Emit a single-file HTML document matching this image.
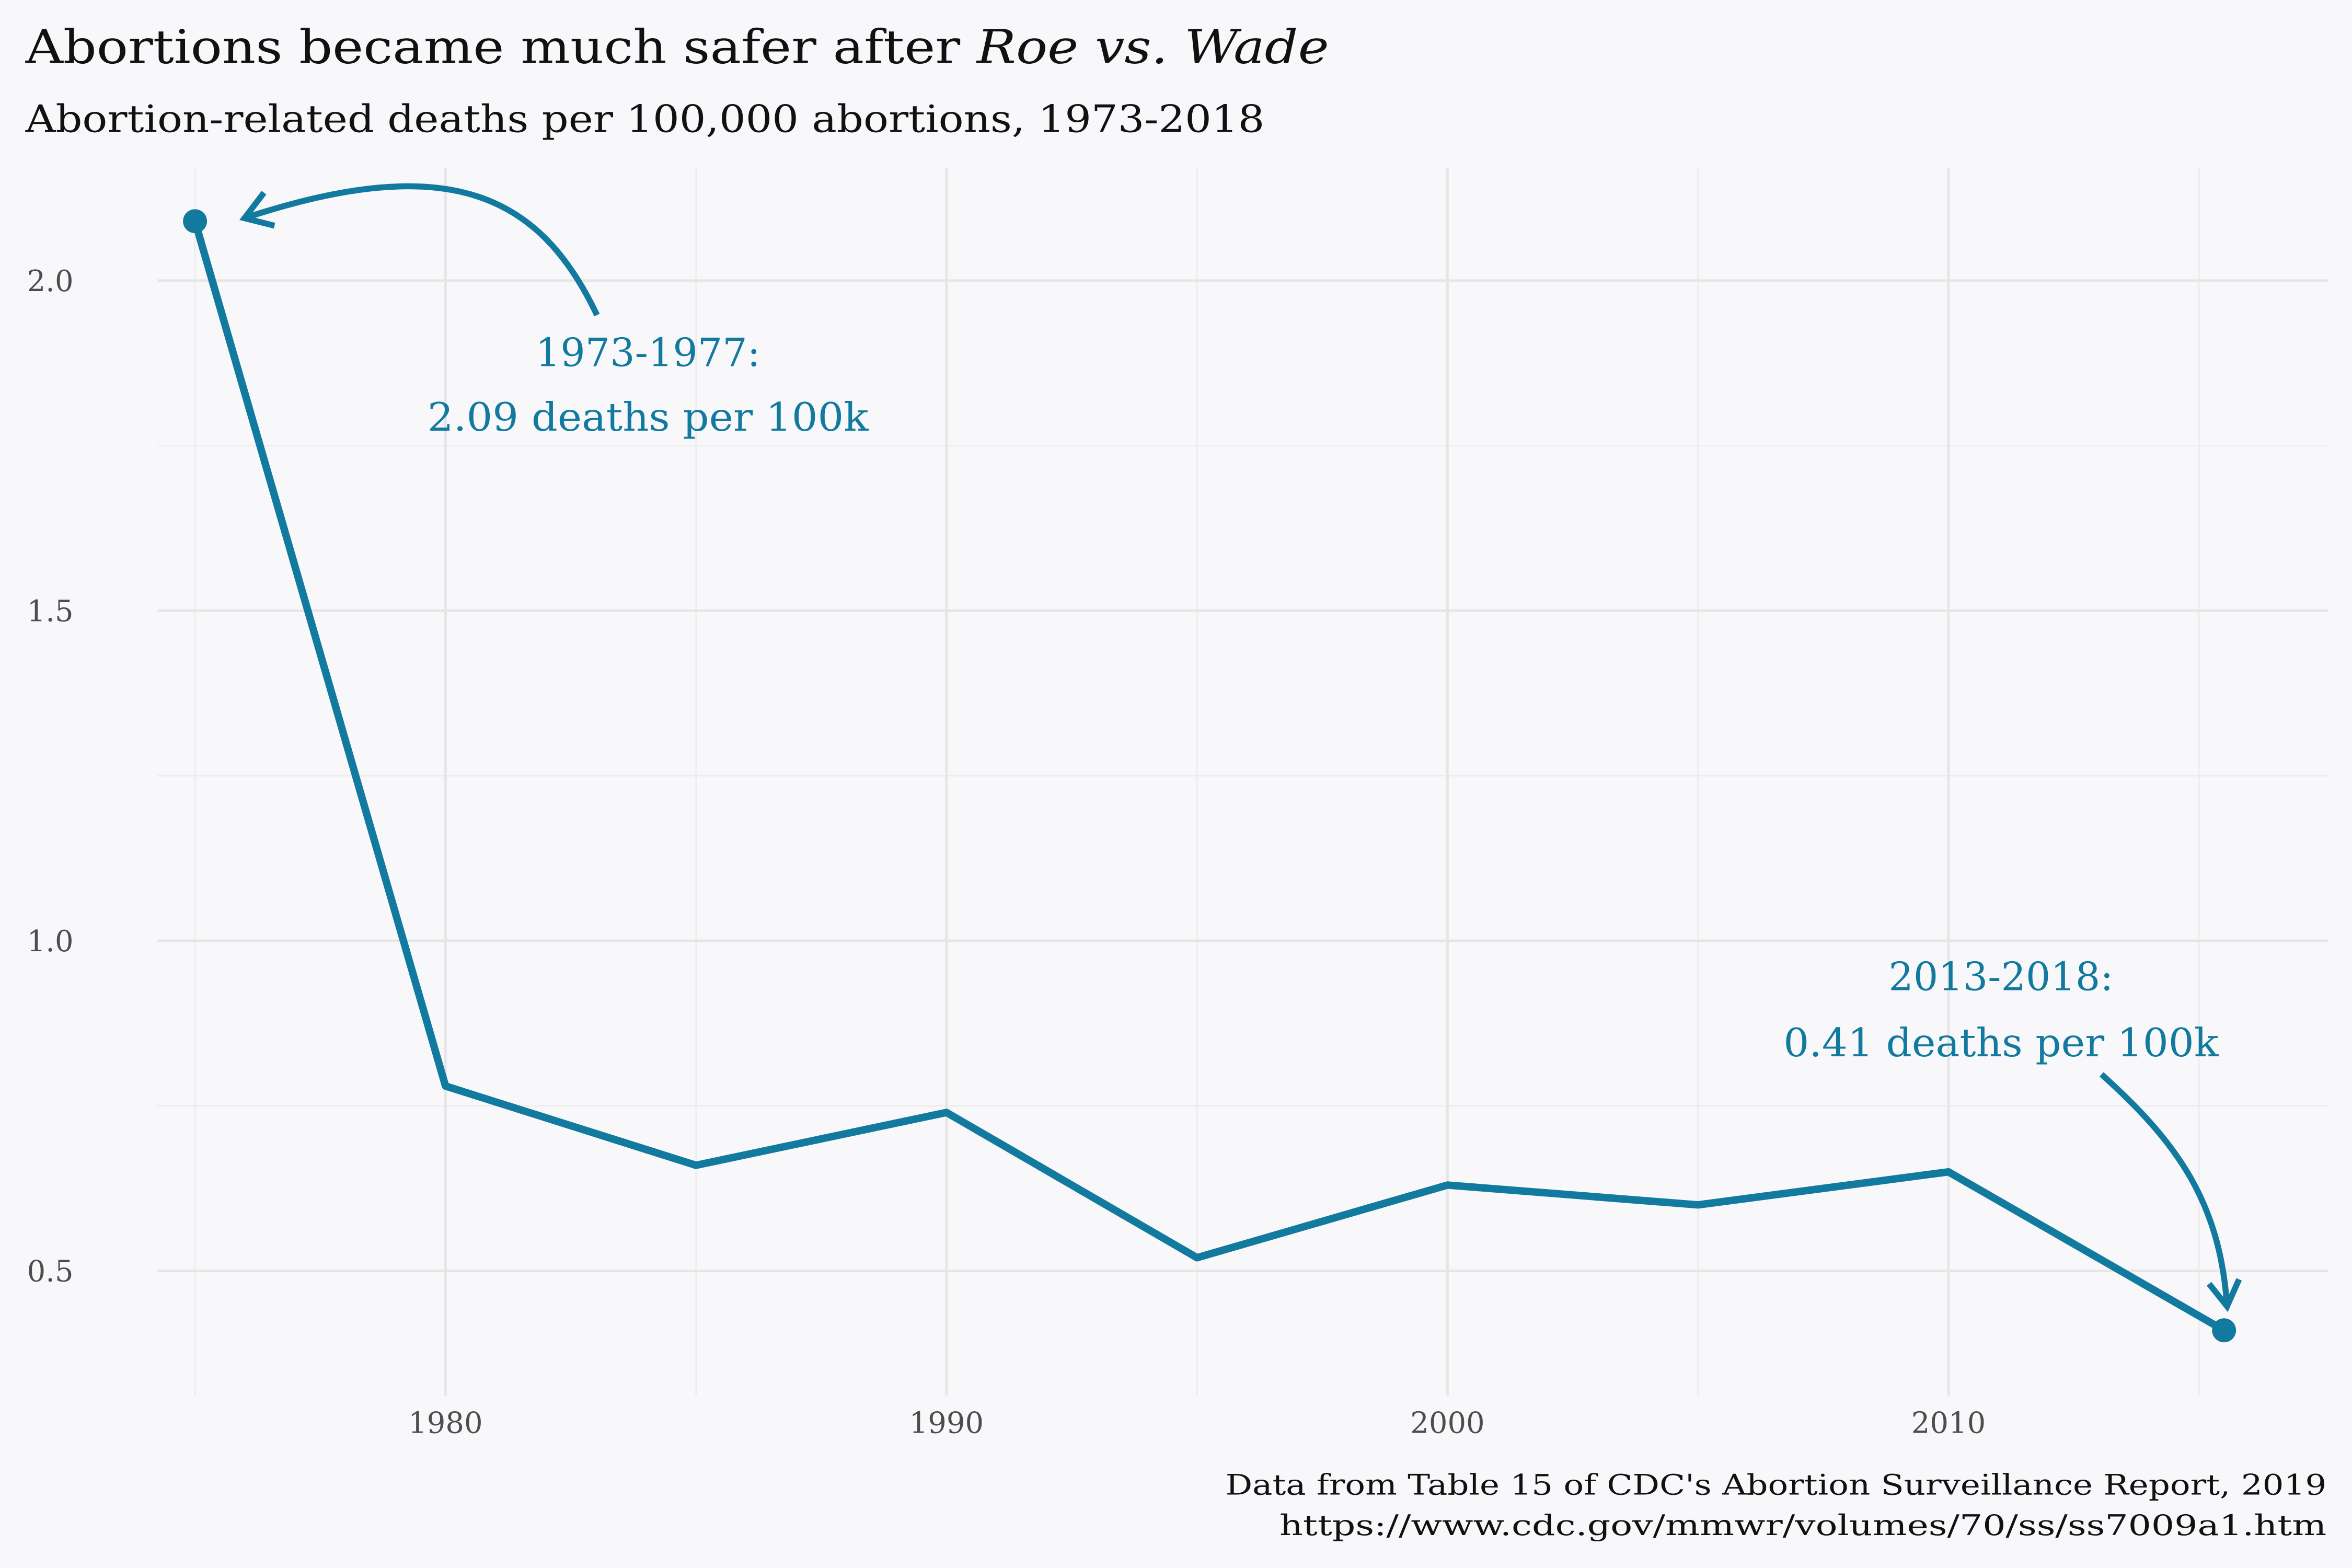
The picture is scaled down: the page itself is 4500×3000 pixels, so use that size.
<!DOCTYPE html>
<html><head><meta charset="utf-8">
<style>
html,body{margin:0;padding:0;background:#f8f8fb;}
svg{display:block;}
text{font-family:"DejaVu Serif","Liberation Serif",serif;}
</style></head>
<body>
<svg id="chart" width="4500" height="3000" viewBox="0 0 1568 1045" preserveAspectRatio="none" xmlns="http://www.w3.org/2000/svg">
<rect width="1568" height="1045" fill="#f8f8fb"/>
<text x="17" y="42" font-size="31" fill="#111" textLength="869" lengthAdjust="spacingAndGlyphs">Abortions became much safer after <tspan font-style="italic">Roe vs. Wade</tspan></text>
<text x="17" y="88" font-size="25" fill="#111" textLength="826" lengthAdjust="spacingAndGlyphs">Abortion-related deaths per 100,000 abortions, 1973-2018</text>
<g id="grid"></g>
<g id="axes"></g>
<g id="series"></g>
<g id="annot"></g>
<text x="1551" y="996" font-size="19" fill="#111" text-anchor="end" textLength="734" lengthAdjust="spacingAndGlyphs">Data from Table 15 of CDC's Abortion Surveillance Report, 2019</text>
<text x="1551" y="1023" font-size="19" fill="#111" text-anchor="end" textLength="698" lengthAdjust="spacingAndGlyphs">https://www.cdc.gov/mmwr/volumes/70/ss/ss7009a1.htm</text>
</svg>
<script>
const years = [1975, 1980, 1985, 1990, 1995, 2000, 2005, 2010, 2015.5];
const rates = [2.09, 0.78, 0.66, 0.74, 0.52, 0.63, 0.60, 0.65, 0.41];
const xTicks = [1980, 1990, 2000, 2010];
const xMinor = [1975, 1985, 1995, 2005, 2015];
const yTicks = [0.5, 1.0, 1.5, 2.0];
const yMinor = [0.75, 1.25, 1.75];
const yTickLabels = ["0.5", "1.0", "1.5", "2.0"];

const NS = "http://www.w3.org/2000/svg";
const COLOR = "#137a9f";
const panelLeft = 105, panelRight = 1552, panelTop = 112, panelBottom = 930;
function xs(v){ return 297 + (v - 1980) * 33.4; }
function ys(v){ return 847 - (v - 0.5) * 440; }
function mk(tag, attrs, parent){
  const e = document.createElementNS(NS, tag);
  for (const k in attrs) e.setAttribute(k, attrs[k]);
  parent.appendChild(e);
  return e;
}
const gridG = document.getElementById('grid');
const axesG = document.getElementById('axes');
const seriesG = document.getElementById('series');
const annotG = document.getElementById('annot');

yMinor.forEach(v => {
  const l = mk('line', {x1:panelLeft, x2:panelRight, y1:ys(v), y2:ys(v), stroke:'#ececec', 'stroke-width':0.9}, gridG);
  
  
});
xMinor.forEach(v => {
  const l = mk('line', {x1:xs(v), x2:xs(v), y1:panelTop, y2:panelBottom, stroke:'#ececec', 'stroke-width':0.9}, gridG);
  
  
});
yTicks.forEach((v, i) => {
  const l = mk('line', {x1:panelLeft, x2:panelRight, y1:ys(v), y2:ys(v), stroke:'#e6e6e6', 'stroke-width':1.7}, gridG);
  
  
  const t = mk('text', {x:49, y:ys(v) + 7, 'font-size':19.5, fill:'#4d4d4d', 'text-anchor':'end'}, axesG);
  t.textContent = yTickLabels[i];
  
  
});
xTicks.forEach(v => {
  const l = mk('line', {x1:xs(v), x2:xs(v), y1:panelTop, y2:panelBottom, stroke:'#e6e6e6', 'stroke-width':1.7}, gridG);
  
  
  const t = mk('text', {x:xs(v), y:955, 'font-size':19.5, fill:'#4d4d4d', 'text-anchor':'middle'}, axesG);
  t.textContent = String(v);
  
  
});

const pts = years.map((yr, i) => xs(yr) + ',' + ys(rates[i])).join(' ');
const line = mk('polyline', {points:pts, fill:'none', stroke:COLOR, 'stroke-width':5, 'stroke-linejoin':'round', 'stroke-linecap':'round'}, seriesG);


[0, years.length - 1].forEach(i => {
  const c = mk('circle', {cx:xs(years[i]), cy:ys(rates[i]), r:8, fill:COLOR}, seriesG);
  
  
});

const p0x = xs(years[0]), p0y = ys(rates[0]);
const a1 = mk('path', {d:`M398,210 C360,130 300,100 ${p0x+33},${p0y-2}`, fill:'none', stroke:COLOR, 'stroke-width':4}, annotG);


const h1 = mk('path', {d:`M${p0x+46},${p0y-19} L${p0x+33},${p0y-2} L${p0x+53},${p0y+3}`, fill:'none', stroke:COLOR, 'stroke-width':4}, annotG);


const t1 = mk('text', {x:432, y:244, 'font-size':26, fill:COLOR, 'text-anchor':'middle'}, annotG);
t1.textContent = '1973-1977:';


const t2 = mk('text', {x:432, y:287, 'font-size':26, fill:COLOR, 'text-anchor':'middle', textLength:294, lengthAdjust:'spacingAndGlyphs'}, annotG);
t2.textContent = '2.09 deaths per 100k';



const pnx = xs(years[years.length-1]), pny = ys(rates[rates.length-1]);
const a2 = mk('path', {d:`M1401,716 C1450,760 1480,800 ${pnx+2},${pny-16}`, fill:'none', stroke:COLOR, 'stroke-width':4}, annotG);


const h2 = mk('path', {d:`M${pnx-10},${pny-31} L${pnx+2},${pny-16} L${pnx+10},${pny-34}`, fill:'none', stroke:COLOR, 'stroke-width':4}, annotG);


const t3 = mk('text', {x:1334, y:660, 'font-size':26, fill:COLOR, 'text-anchor':'middle'}, annotG);
t3.textContent = '2013-2018:';


const t4 = mk('text', {x:1334, y:704, 'font-size':26, fill:COLOR, 'text-anchor':'middle', textLength:290, lengthAdjust:'spacingAndGlyphs'}, annotG);
t4.textContent = '0.41 deaths per 100k';


</script>
</body></html>
